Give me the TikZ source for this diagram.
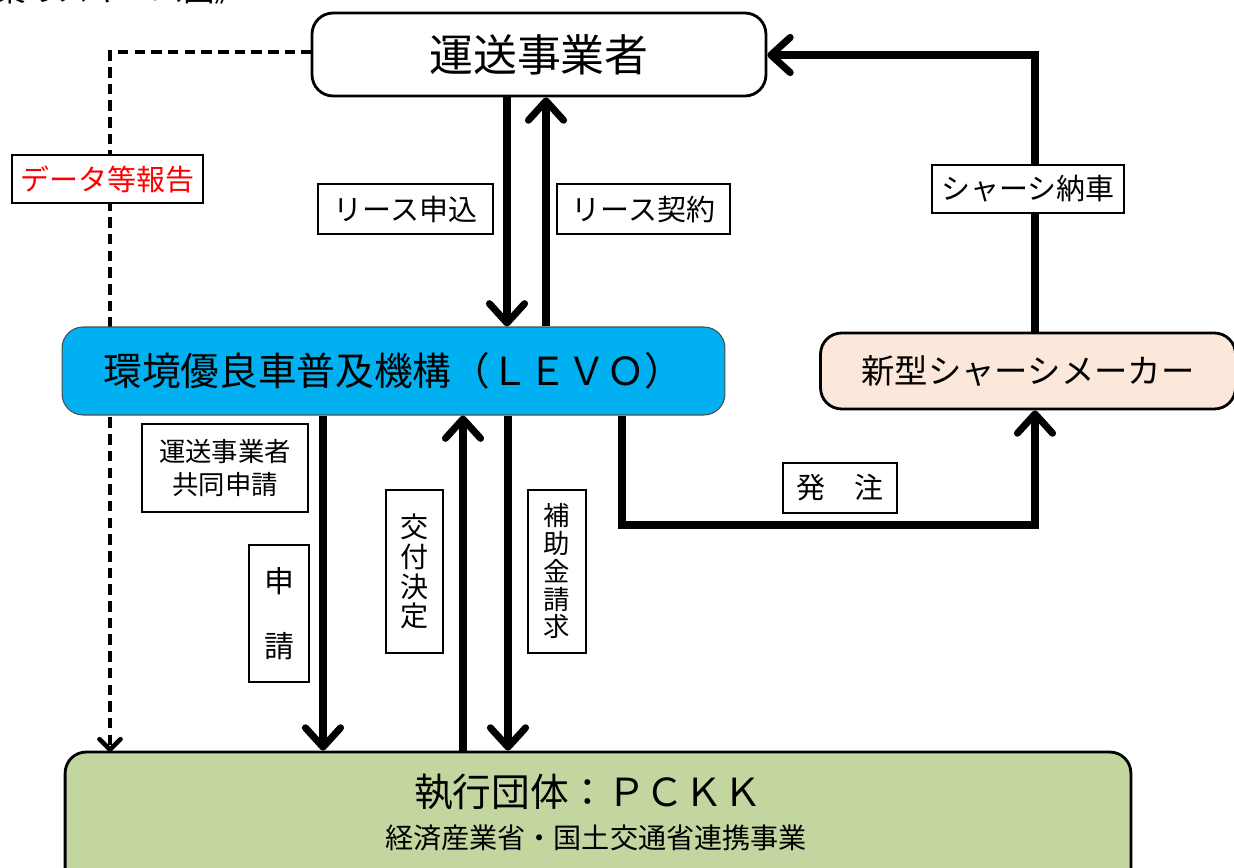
\documentclass[tikz,border=0pt]{standalone}
\usepackage{fontspec}
\setmainfont{Noto Sans CJK JP}
\usepackage{xcolor}
\usepackage{tikz}
\usetikzlibrary{positioning,calc,arrows.meta}
\definecolor{LEVOBlue}{RGB}{0,176,240}
\definecolor{MakerPeach}{RGB}{252,232,218}
\definecolor{PCKKGreen}{RGB}{196,214,160}
\definecolor{ReportRed}{RGB}{255,0,0}
\tikzset{
    mainbox/.style={rectangle, rounded corners=12pt, draw=black, line width=1.6pt, inner sep=0pt},
    labelbox/.style={rectangle, draw=black, fill=white, line width=1pt, inner sep=0pt, align=center},
    flow/.style={line width=4pt, -{Straight Barb[length=11pt,width=20pt,round]}},
    report/.style={line width=2.6pt, dash pattern=on 6pt off 3.5pt, -{Straight Barb[length=6pt,width=12pt,round]}}
}

\begin{document}
\begin{tikzpicture}[x=0.02cm, y=-0.02cm]
        \useasboundingbox (0,0) rectangle (1234,868);

        % --- TIÊU ĐỀ (bị cắt) ---
        \node[anchor=base west, inner sep=0pt, font=\fontsize{18pt}{20pt}\selectfont] (title) at (-6,2) {業のスキーム図》};

        % --- CÁC CỘT TỌA ĐỘ ---
        \coordinate (xLeaseIn)  at (507,0);
        \coordinate (xLeaseOut) at (546,0);
        \coordinate (xApply)    at (323,0);
        \coordinate (xDecide)   at (463,0);
        \coordinate (xClaim)    at (508,0);
        \coordinate (xOrder)    at (622,0);
        \coordinate (xMaker)    at (1035,0);
        \coordinate (yOrder)    at (0,525);
        \coordinate (yDeliver)  at (0,55);

        % --- ĐƯỜNG NÉT ĐỨT (vẽ trước, nằm dưới các hộp) ---
        \coordinate (reportTop) at (312,52);
        \coordinate (reportBend) at (110,52);
        \coordinate (reportEnd) at (110,752);
        \draw[report] (reportTop) -- (reportBend) -- (reportEnd);

        % --- CÁC HỘP CHÍNH ---
        \node[mainbox, fill=white, minimum width=9.08cm, minimum height=1.66cm,
            font=\fontsize{25pt}{30pt}\selectfont] (unyu) at (539,54.5) {運送事業者};
        \node[mainbox, fill=LEVOBlue, draw=black!70, line width=0.6pt, minimum width=13.26cm, minimum height=1.76cm,
            font=\fontsize{22pt}{26pt}\selectfont] (levo) at (393.5,371) {環境優良車普及機構（ＬＥＶＯ）};
        \node[mainbox, fill=MakerPeach, minimum width=8.3cm, minimum height=1.52cm,
            font=\fontsize{19pt}{23pt}\selectfont] (maker) at (1028,371) {新型シャーシメーカー};
        \node[mainbox, fill=PCKKGreen, minimum width=21.32cm, minimum height=3.2cm] (pckk) at (598,832) {};
        \node[font=\fontsize{22pt}{26pt}\selectfont] (pckkTitle) at (588,792) {執行団体：ＰＣＫＫ};
        \node[font=\fontsize{16pt}{19pt}\selectfont] (pckkSub) at (596,838) {経済産業省・国土交通省連携事業};

        % --- CÁC MŨI TÊN ---
        \draw[flow] (unyu.south -| xLeaseIn) -- (levo.north -| xLeaseIn);
        \draw[flow] (levo.north -| xLeaseOut) -- (unyu.south -| xLeaseOut);
        \draw[flow] (maker.north -| xMaker) -- (xMaker |- yDeliver) -- (unyu.east |- yDeliver);
        \draw[flow] (levo.south -| xOrder) -- (xOrder |- yOrder) -- (xMaker |- yOrder) -- (maker.south -| xMaker);
        \draw[flow] (levo.south -| xApply) -- (pckk.north -| xApply);
        \draw[flow] (pckk.north -| xDecide) -- (levo.south -| xDecide);
        \draw[flow] (levo.south -| xClaim) -- (pckk.north -| xClaim);

        % --- CÁC NHÃN ---
        \node[labelbox, text=ReportRed, minimum width=3.82cm, minimum height=0.96cm,
            font=\fontsize{16.5pt}{19pt}\selectfont] (reportLbl) at (107.5,179) {データ等報告};
        \node[labelbox, minimum width=3.5cm, minimum height=1.0cm,
            font=\fontsize{16.5pt}{19pt}\selectfont] (leaseInLbl) at (405.5,209) {リース申込};
        \node[labelbox, minimum width=3.46cm, minimum height=1.0cm,
            font=\fontsize{16.5pt}{19pt}\selectfont] (leaseOutLbl) at (643.5,209) {リース契約};
        \node[labelbox, minimum width=3.84cm, minimum height=0.96cm,
            font=\fontsize{16.5pt}{19pt}\selectfont] (deliverLbl) at (1028,189) {シャーシ納車};
        \node[labelbox, minimum width=2.28cm, minimum height=1.0cm,
            font=\fontsize{16.5pt}{19pt}\selectfont] (orderLbl) at (840,488) {発\hspace{1em}注};
        \node[labelbox, minimum width=3.32cm, minimum height=1.76cm,
            font=\fontsize{15pt}{19pt}\selectfont] (jointLbl) at (225,468) {運送事業者\\共同申請};
        \node[labelbox, minimum width=1.2cm, minimum height=2.74cm,
            font=\fontsize{17pt}{37pt}\selectfont] (applyLbl) at (279,613.5) {申\\請};
        \node[labelbox, minimum width=1.14cm, minimum height=3.26cm,
            font=\fontsize{16pt}{17pt}\selectfont] (decideLbl) at (414.5,571.5) {交\\付\\決\\定};
        \node[labelbox, minimum width=1.16cm, minimum height=3.26cm,
            font=\fontsize{15pt}{15.8pt}\selectfont] (claimLbl) at (557,571.5) {補\\助\\金\\請\\求};

    \end{tikzpicture}
\end{document}
